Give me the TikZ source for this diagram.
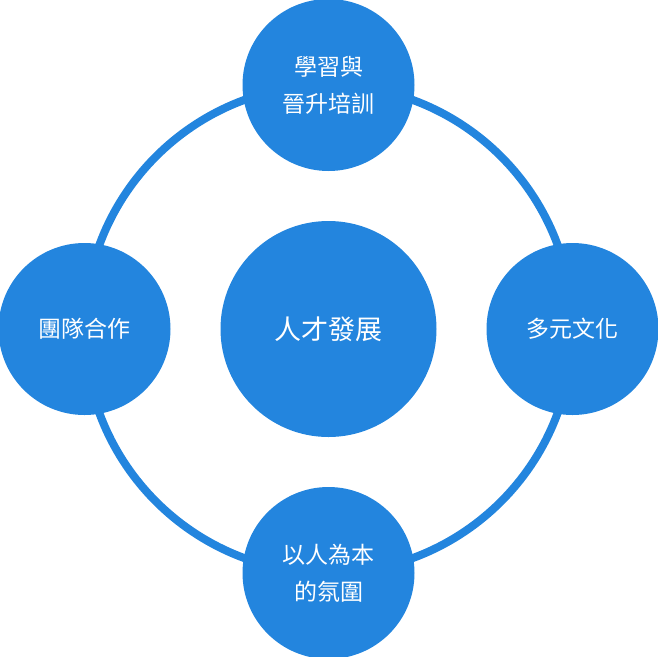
\documentclass[tikz,border=0pt]{standalone}
\usepackage{fontspec}
\newfontfamily\cjk{Noto Sans CJK TC}
\usetikzlibrary{positioning}
\definecolor{hubblue}{RGB}{35,133,222}

\begin{document}
\begin{tikzpicture}[
    x=1pt, y=1pt,
    node distance=50pt,
    hub/.style={circle, fill=hubblue, text=white, outer sep=0pt,
      minimum size=216pt, inner sep=0pt, align=center,
      font=\cjk\fontsize{27}{32}\selectfont},
    topic/.style={circle, fill=hubblue, text=white, outer sep=0pt,
      minimum size=172pt, inner sep=0pt, align=center,
      font=\cjk\fontsize{23}{37}\selectfont},
    ring/.style={draw=hubblue, line width=8pt}
  ]
    \useasboundingbox (0,0) rectangle (657,-657);

    \node[hub] (core) at (328.5,-329) {人才發展};
    \draw[ring] (core.center) circle[radius=244];

    \node[topic, above=of core] (learn) {學習與\\晉升培訓};
    \node[topic, right=of core] (culture) {多元文化};
    \node[topic, below=of core] (people) {以人為本\\的氛圍};
    \node[topic, left=of core]  (team) {團隊合作};
  \end{tikzpicture}
\end{document}
